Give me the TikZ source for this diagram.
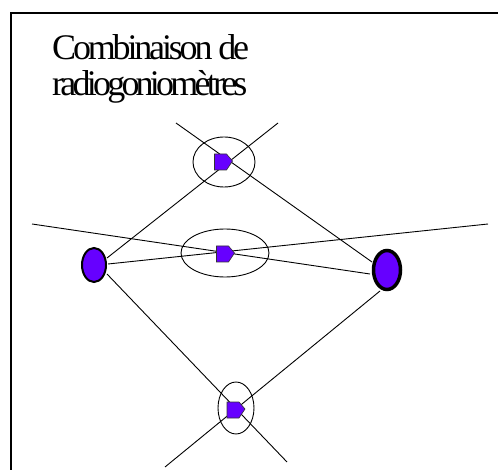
\documentclass[tikz,border=0pt]{standalone}
\usepackage{fontspec}
\usetikzlibrary{shapes.geometric}
\setmainfont{Liberation Serif}
\newfontfamily\titlefont[LetterSpace=-8.8]{Liberation Serif}
\newfontfamily\titlefontb[LetterSpace=-10.5]{Liberation Serif}
\definecolor{dfviolet}{RGB}{102,0,255}
\begin{document}
\begin{tikzpicture}[x=1pt,y=-1pt,
  bearing/.style={draw=black,line width=0.9pt},
  zone/.style={ellipse,draw=black,line width=0.9pt,inner sep=0pt},
  stationL/.style={ellipse,draw=black,fill=dfviolet,line width=2pt,inner sep=0pt,minimum width=24pt,minimum height=34pt},
  stationR/.style={ellipse,draw=black,fill=dfviolet,line width=3.5pt,inner sep=0pt,minimum width=27pt,minimum height=39pt},
  titletext/.style={anchor=base west,inner sep=0pt},
  emitter/.pic={\draw[fill=dfviolet,draw=black!80,line width=0.6pt] (-9,-8) -- (3,-8) -- (9,-1) -- (3,8) -- (-9,8) -- cycle;}]
\useasboundingbox (0,0) rectangle (498,470);
\clip (0,0) rectangle (498,470);
\draw[line width=1.5pt] (11,13) rectangle (530,500);
\node[titletext,font=\titlefont\fontsize{36}{40}\selectfont] (title1) at (52,60) {Combinaison de};
\node[titletext,font=\titlefontb\fontsize{36}{40}\selectfont] (title2) at (52,96) {radiogoniomètres};
% bearing end points
\coordinate (t1a) at (176,123); \coordinate (t1b) at (372,262);
\coordinate (t2a) at (278,123); \coordinate (t2b) at (107,258);
\coordinate (m1a) at (32,224);  \coordinate (m1b) at (370,274);
\coordinate (m2a) at (108,264); \coordinate (m2b) at (488,224);
\coordinate (b1a) at (380,291); \coordinate (b1b) at (165,467);
\coordinate (b2a) at (107,274); \coordinate (b2b) at (287,462);
\draw[bearing] (t1a) -- (t1b);
\draw[bearing] (t2a) -- (t2b);
\draw[bearing] (m1a) -- (m1b);
\draw[bearing] (m2a) -- (m2b);
\draw[bearing] (b1a) -- (b1b);
\draw[bearing] (b2a) -- (b2b);
% uncertainty zones
\node[zone,minimum width=62pt,minimum height=50pt] (ztop) at (224,162) {};
\node[zone,minimum width=88pt,minimum height=48pt] (zmid) at (225,253) {};
\node[zone,minimum width=36pt,minimum height=52pt] (zbot) at (236,408) {};
% emitters
\pic (etop) at (223.5,162) {emitter};
\pic (emid) at (225.5,254) {emitter};
\pic (ebot) at (236,410) {emitter};
% stations
\node[stationL] (stL) at (94,265) {};
\node[stationR] (stR) at (387,270) {};
\end{tikzpicture}
\end{document}
